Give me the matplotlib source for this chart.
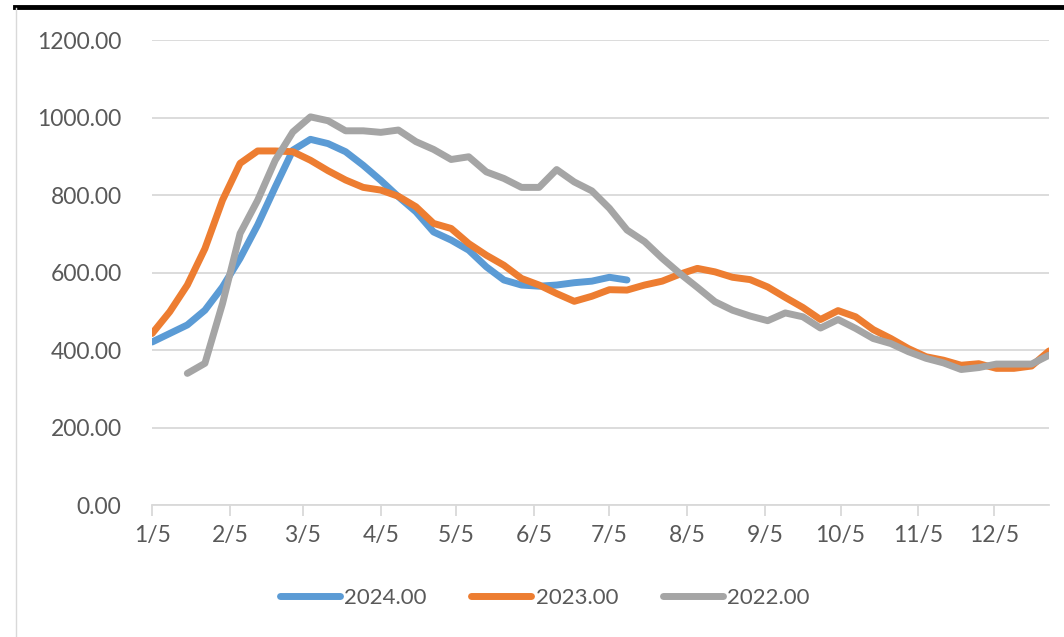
import pandas as pd
import matplotlib
matplotlib.use("Agg")
import matplotlib.pyplot as plt
import matplotlib.dates as mdates
from matplotlib.lines import Line2D

# weekly readings, first week 1/5
dates = pd.date_range("2024-01-05", periods=52, freq="7D")

y2024 = [421, 443, 465, 503, 563, 637, 723, 821, 916, 944, 933, 912, 877, 838,
         796, 757, 705, 684, 658, 615, 581, 568, 565, 568, 574, 578, 588, 581]

y2023 = [443, 499, 568, 662, 787, 882, 914, 914, 912, 890, 863, 839, 820, 813,
         797, 770, 727, 714, 675, 645, 619, 585, 568, 546, 526, 539, 556, 555,
         568, 578, 596, 611, 602, 588, 582, 563, 536, 510, 479, 502, 486, 453,
         430, 404, 383, 374, 361, 365, 353, 353, 359, 398]

# 2022 starts at the third week
y2022 = [None, None, 340, 366, 520, 701, 787, 890, 963, 1002, 992, 966, 966, 962,
         968, 938, 918, 892, 899, 860, 843, 820, 820, 866, 834, 811, 766, 710,
         680, 637, 598, 562, 525, 503, 488, 476, 496, 486, 457, 479, 456, 430,
         417, 396, 379, 367, 350, 355, 364, 364, 364, 387]

series = [("2024.00", y2024, "#5B9BD5"),
          ("2023.00", y2023, "#ED7D31"),
          ("2022.00", y2022, "#A5A5A5")]

plt.rcParams["font.family"] = ["Lato", "DejaVu Sans"]

fig = plt.figure(figsize=(10.64, 6.37), dpi=100)
ax = fig.add_axes([0.143, 0.207, 0.843, 0.730])

for name, vals, color in series:
    s = pd.Series(vals, index=dates[:len(vals)], dtype=float)
    ax.plot(s.index, s.values, color=color, lw=5, label=name,
            solid_capstyle="round", solid_joinstyle="round")

ax.set_ylim(0, 1200)
ax.set_yticks(range(0, 1201, 200))
ax.yaxis.set_major_formatter(plt.FuncFormatter(lambda v, p: f"{v:.2f}"))
ax.set_xlim(dates[0], dates[-1])
ax.xaxis.set_major_locator(mdates.MonthLocator(bymonthday=5))
ax.xaxis.set_major_formatter(plt.FuncFormatter(
    lambda v, p: f"{mdates.num2date(v).month}/{mdates.num2date(v).day}"))

ax.grid(axis="y", color="#D9D9D9", lw=1.3)
ax.set_axisbelow(True)
for side in ["top", "right", "left"]:
    ax.spines[side].set_visible(False)
ax.spines["bottom"].set_color("#D9D9D9")
ax.spines["bottom"].set_linewidth(1.3)
ax.tick_params(axis="y", length=0, pad=22, labelsize=16.5, labelcolor="#595959")
ax.tick_params(axis="x", length=8, width=1.3, color="#D9D9D9", pad=6,
               labelsize=16.5, labelcolor="#595959")

ax.legend(loc="center", bbox_to_anchor=(0.512, 0.061), bbox_transform=fig.transFigure,
          ncol=3, frameon=False, fontsize=16, handlelength=2.7, handletextpad=0.2,
          columnspacing=2.0, labelcolor="#595959")

# chart border
fig.add_artist(Line2D([0.014, 1.0], [0.989, 0.989], color="black", lw=3.5))
fig.add_artist(Line2D([0.015, 0.015], [0.0, 0.988], color="#D9D9D9", lw=1))

fig.savefig("out.png", dpi=100)
